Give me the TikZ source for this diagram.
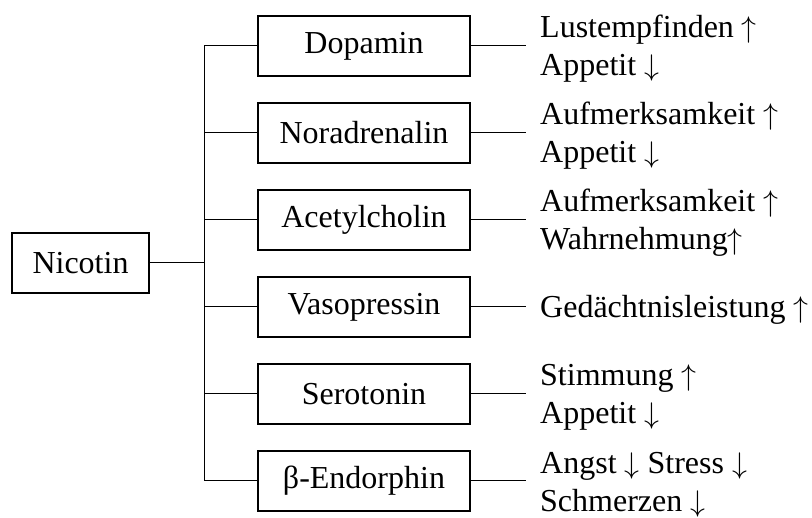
\documentclass[tikz,border=0pt]{standalone}
\usepackage{graphicx}
\usepackage{fontspec}
\setmainfont{Liberation Serif}
\newcommand{\hoch}{ \scalebox{1.2}{$\uparrow$}}
\newcommand{\runter}{ \scalebox{1.2}{$\downarrow$}}
\tikzset{
	stoff/.style={draw, line width=2pt, minimum width=212pt, minimum height=60pt, inner sep=0pt},
	wirkung/.style={anchor=base west, inner sep=0pt},
	every edge/.append style={line width=1pt},
}
\begin{document}
\begin{tikzpicture}[x=1pt, y=-1pt, font=\fontsize{32}{38}\selectfont]
	\useasboundingbox (0,0) rectangle (812,518);

	\node[stoff, minimum width=137pt] (nic) at (80.5,263) {Nicotin};
	\node[stoff] (dop) at (364,46) {Dopamin};
	\node[stoff] (nor) at (364,133) {Noradrenalin};
	\node[stoff] (ace) at (364,220) {Acetylcholin};
	\node[stoff] (vas) at (364,307) {Vasopressin};
	\node[stoff] (ser) at (364,394) {Serotonin};
	\node[stoff] (end) at (364,481) {β-Endorphin};

	\coordinate (mid) at (204,263);
	\coordinate (top) at (204,46);
	\coordinate (bot) at (204,481);
	\coordinate (dopR) at (526,46);
	\coordinate (norR) at (526,133);
	\coordinate (aceR) at (526,220);
	\coordinate (vasR) at (526,307);
	\coordinate (serR) at (526,394);
	\coordinate (endR) at (526,481);

	\node[wirkung] (dopA) at (540,38) {Lustempfinden\hoch};
	\node[wirkung] (dopB) at (540,76) {Appetit\runter};
	\node[wirkung] (norA) at (540,125) {Aufmerksamkeit\hoch};
	\node[wirkung] (norB) at (540,163) {Appetit\runter};
	\node[wirkung] (aceA) at (540,212) {Aufmerksamkeit\hoch};
	\node[wirkung] (aceB) at (540,250) {Wahrnehmung\scalebox{1.2}{$\uparrow$}};
	\node[wirkung] (vasA) at (540,318) {Gedächtnisleistung\hoch};
	\node[wirkung] (serA) at (540,386) {Stimmung\hoch};
	\node[wirkung] (serB) at (540,424) {Appetit\runter};
	\node[wirkung] (endA) at (540,474) {Angst\runter{} Stress\runter};
	\node[wirkung] (endB) at (540,512) {Schmerzen\runter};

	\path (nic) edge (mid);
	\path (top) edge (bot);
	\path (top) edge (dop);
	\path (top |- nor) edge (nor);
	\path (top |- ace) edge (ace);
	\path (top |- vas) edge (vas);
	\path (top |- ser) edge (ser);
	\path (bot) edge (end);
	\path (dop) edge (dopR);
	\path (nor) edge (norR);
	\path (ace) edge (aceR);
	\path (vas) edge (vasR);
	\path (ser) edge (serR);
	\path (end) edge (endR);
\end{tikzpicture}
\end{document}
